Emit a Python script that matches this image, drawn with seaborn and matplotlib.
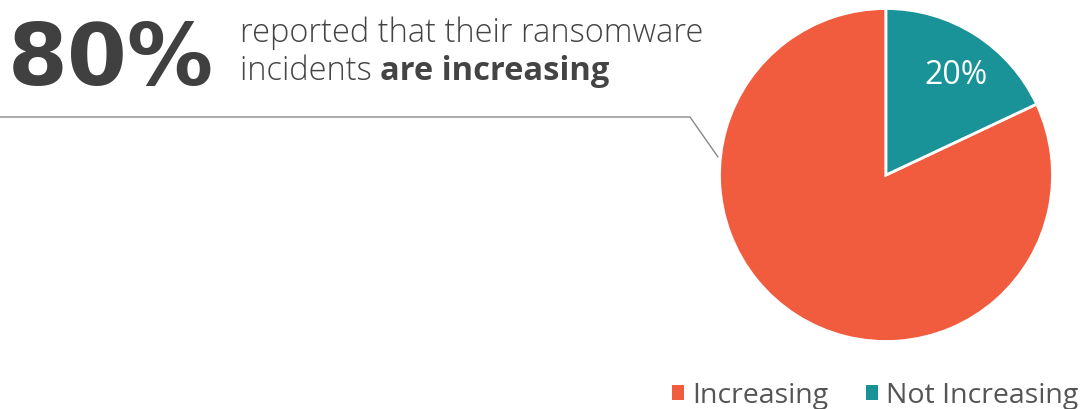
import matplotlib
matplotlib.use("Agg")
import matplotlib.pyplot as plt
from matplotlib.lines import Line2D
from matplotlib.patches import Patch
import matplotlib.transforms as mtransforms
import seaborn as sns

categories = ["Increasing", "Not Increasing"]
values = [82, 18]                 # slice sizes as drawn in the picture
slice_labels = ["", "20%"]        # label shown on the slices
colors = ["#F15C3E", "#199398"]
headline = "80%"

sns.set_theme(style="white")
plt.rcParams['font.family'] = ['Open Sans', 'DejaVu Sans']

W, H = 1086, 409
fig = plt.figure(figsize=(W / 100, H / 100), dpi=100)

cx, cy, r = 886, 175, 166.5
ax = fig.add_axes([(cx - r) / W, (H - cy - r) / H, 2 * r / W, 2 * r / H])

wedges, texts = ax.pie(
    values, colors=colors, startangle=90, counterclock=True,
    labels=slice_labels, labeldistance=0.75,
    wedgeprops=dict(edgecolor="white", linewidth=2),
    textprops=dict(color="white", fontsize=23),
)
for t in texts:
    t.set_horizontalalignment("center")
    t.set_verticalalignment("center")
    # small nudge so the label sits like the original
    t.set_transform(t.get_transform() + mtransforms.ScaledTranslation(3 / 100, -6 / 100, fig.dpi_scale_trans))
ax.set_xlim(-1.0, 1.0)
ax.set_ylim(-1.0, 1.0)
ax.set_aspect("equal")
ax.axis("off")

# headline
fig.text(8 / W, 1 - 85 / H, headline, fontsize=62, fontweight="bold",
         color="#404041", family=["DejaVu Sans"], ha="left", va="baseline")
fig.text(240 / W, 1 - 42 / H, "reported that their ransomware",
         fontsize=23.5, color="#444444", fontweight="light", ha="left", va="baseline")
t1 = fig.text(240 / W, 1 - 80 / H, "incidents ", fontsize=23.5, color="#444444",
              fontweight="light", ha="left", va="baseline")
fig.canvas.draw()
bb = t1.get_window_extent()
fig.text(bb.x1 / W, 1 - 80 / H, "are increasing", fontsize=23.5, color="#444444",
         fontweight="bold", ha="left", va="baseline")

# connector line
fig.add_artist(Line2D([0, 690 / W, 718 / W], [1 - 117 / H, 1 - 117 / H, 1 - 157 / H],
                      transform=fig.transFigure, color="#888888", linewidth=1))

handles = [Patch(facecolor=c, edgecolor="none", label=l) for c, l in zip(colors, categories)]
fig.legend(handles=handles, loc="lower right", bbox_to_anchor=(1090 / W, -12 / H), ncol=2,
           frameon=False, fontsize=20.5, handlelength=0.42, handleheight=0.42,
           handletextpad=0.3, columnspacing=1.3, labelcolor="#555555",
           borderaxespad=0.0)

fig.savefig("out.png", dpi=100)
